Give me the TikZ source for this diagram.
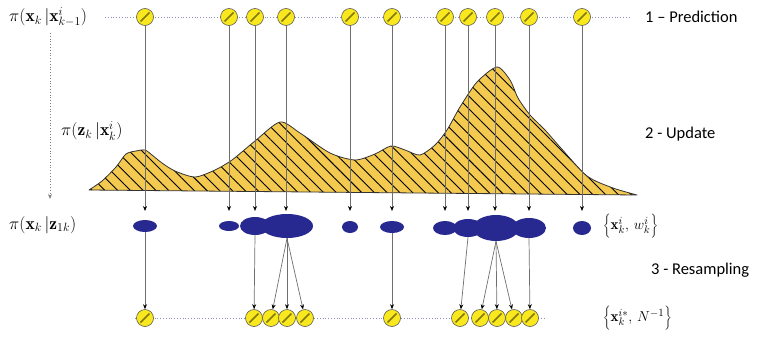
\documentclass[tikz,border=0pt]{standalone}
\usepackage{fontspec}
\newfontfamily\labfont{Carlito}
\usetikzlibrary{arrows.meta,shapes.geometric,patterns.meta}
\definecolor{curvefill}{RGB}{243,201,80}
\definecolor{blobblue}{RGB}{40,40,145}
\definecolor{pyellow}{RGB}{250,232,30}
\definecolor{slashc}{RGB}{130,120,20}
\definecolor{guide}{RGB}{140,140,200}
\definecolor{conngray}{RGB}{110,110,110}
\begin{document}
\begin{tikzpicture}[x=1pt,y=-1pt,
  particle/.style={circle,minimum size=17pt,inner sep=0pt,fill=pyellow,draw=black!65,line width=0.6pt,
    path picture={\draw[slashc,line width=1.6pt] ([shift={(-4.5pt,-4.5pt)}]path picture bounding box.center) -- ([shift={(4.5pt,4.5pt)}]path picture bounding box.center);}},
  blob/.style={ellipse,fill=blobblue,inner sep=0pt},
  conn/.style={conngray,line width=0.7pt,-{Stealth[length=5pt,width=4pt,black]}},
  guideline/.style={guide,dotted,line width=0.8pt},
  steplab/.style={font=\labfont\fontsize{16.5}{19}\selectfont,anchor=west,inner sep=0pt},
  mathlab/.style={font=\fontsize{17.5}{20}\selectfont,anchor=west,inner sep=0pt},
  setlab/.style={font=\fontsize{15}{18}\selectfont,anchor=west,inner sep=0pt}]
\useasboundingbox (0,0) rectangle (770,340);

% guide lines
\coordinate (gl1) at (105,17); \coordinate (gr1) at (630,17);
\coordinate (gl2) at (135,318); \coordinate (gr2) at (545,318);
\draw[guideline] (gl1) -- (gr1);
\draw[guideline] (gl2) -- (gr2);
\coordinate (vtop) at (50,33); \coordinate (vbot) at (50,199);
\draw[gray,dotted,line width=0.8pt,-{Stealth[length=5pt,width=4pt]}] (vtop) -- (vbot);

% likelihood curve
\draw[preaction={fill=curvefill},pattern={Lines[angle=-45,distance=9pt,line width=0.9pt]},pattern color=black,
  draw=black!80,line width=0.8pt,line join=round]
  plot[smooth,tension=0.45] coordinates {(89,190) (102,181) (116,167) (126,154) (136,151) (145,150) (152,155)
   (162,163) (175,171) (195,177)
   (215,170) (232,160) (255,141) (280,122) (300,133) (330,153) (355,160) (375,154) (391,146) (405,150)
   (420,155) (435,145) (447,130) (460,107) (477,82) (497,67) (510,80) (518,98) (530,115) (545,130)
   (560,147) (587,176) (613,188) (637,195)} -- cycle;

% top particles
\foreach \x [count=\i] in {145,229,255,286,350,392,445,468,495,529,582}
  \node[particle] (t\i) at (\x,17) {};
\coordinate (tipy) at (0,211);
\foreach \i in {1,...,11}
  \draw[conn] (t\i) -- (t\i |- tipy);

% weighted particles
\foreach \x/\rx/\ry/\y [count=\i] in {145/12/6/226,229/10/5/226,255/15/9/226,287/26/12/226,350/8/6/227,392/12/6/227,
    445/12/7/228,468/15/9/228,496/23/13/228,529/17/10/228,582/9/7/228}
  \node[blob,minimum width=2*\rx,minimum height=2*\ry] (e\i) at (\x,\y) {};

% bottom particles
\foreach \x [count=\i] in {145,254,271,287,305,392,460,480,497,514,530}
  \node[particle] (b\i) at (\x,318) {};
\foreach \a/\b in {1/1,3/2,4/3,4/4,4/5,6/6,8/7,9/8,9/9,9/10,10/11}
  \draw[conn] (e\a.south) -- (b\b);

% labels
\node[mathlab] (l1) at (9,17) {$\pi(\mathbf{x}_k\,\Big|\mathbf{x}^i_{k-1})$};
\node[mathlab] (l2) at (61,131) {$\pi(\mathbf{z}_k\,\Big|\mathbf{x}^i_k)$};
\node[mathlab] (l3) at (9,225) {$\pi(\mathbf{x}_k\,\Big|\mathbf{z}_{1k})$};
\node[setlab] (l4) at (603,226) {$\bigg\{\mathbf{x}^i_k,\,w^i_k\bigg\}$};
\node[setlab] (l5) at (603,318) {$\bigg\{\mathbf{x}^{i*}_k,\,N^{-1}\bigg\}$};
\node[steplab] (s1) at (645,17) {1 – Prediction};
\node[steplab] (s2) at (645,134) {2 - Update};
\node[steplab] (s3) at (651,270) {3 - Resampling};
\end{tikzpicture}
\end{document}
